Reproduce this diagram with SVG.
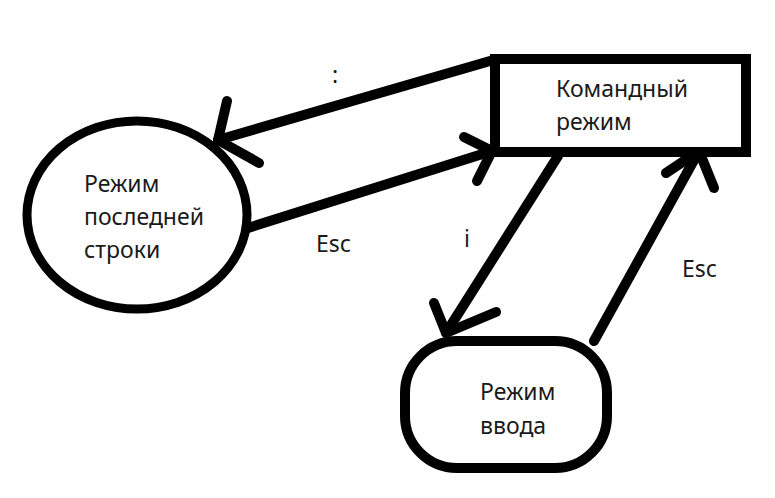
<svg xmlns="http://www.w3.org/2000/svg" width="775" height="498" viewBox="0 0 775 498">
<style>
.shape{fill:#fff;stroke:#000;stroke-width:10}
.edge{fill:none;stroke:#000;stroke-width:10;stroke-linecap:round;stroke-linejoin:round}
text{font-family:"Noto Sans","Open Sans","DejaVu Sans",sans-serif;font-size:23px;fill:#1a1a1a}
</style>
<rect width="775" height="498" fill="#fff"/>
<g id="connectors">
  <path class="edge" d="M490,61 L218,140"/>
  <path class="edge" d="M227,101 L218,140 L259,163"/>
  <path class="edge" d="M248,228 L492,151"/>
  <path class="edge" d="M464,137 L492,151 L477,181"/>
  <path class="edge" d="M558,156 L446,333"/>
  <path class="edge" d="M434,303 L446,333 L496,312"/>
  <path class="edge" d="M594,341 L699,151"/>
  <path class="edge" d="M666,173 L699,151 L714,188"/>
  <text x="332" y="83">:</text>
  <text x="316" y="252">Esc</text>
  <text x="464" y="247">i</text>
  <text x="682" y="277">Esc</text>
</g>
<g id="node-command">
  <rect class="shape" x="495" y="59" width="251" height="93"/>
  <text x="556" y="97">Командный</text>
  <text x="556" y="130">режим</text>
</g>
<g id="node-lastline">
  <ellipse class="shape" cx="137" cy="215" rx="110" ry="94" style="stroke-width:9"/>
  <text x="84" y="192">Режим</text>
  <text x="84" y="225">последней</text>
  <text x="84" y="258">строки</text>
</g>
<g id="node-input">
  <rect class="shape" x="405" y="341" width="202" height="127" rx="52"/>
  <text x="480" y="400">Режим</text>
  <text x="480" y="434">ввода</text>
</g>
</svg>
